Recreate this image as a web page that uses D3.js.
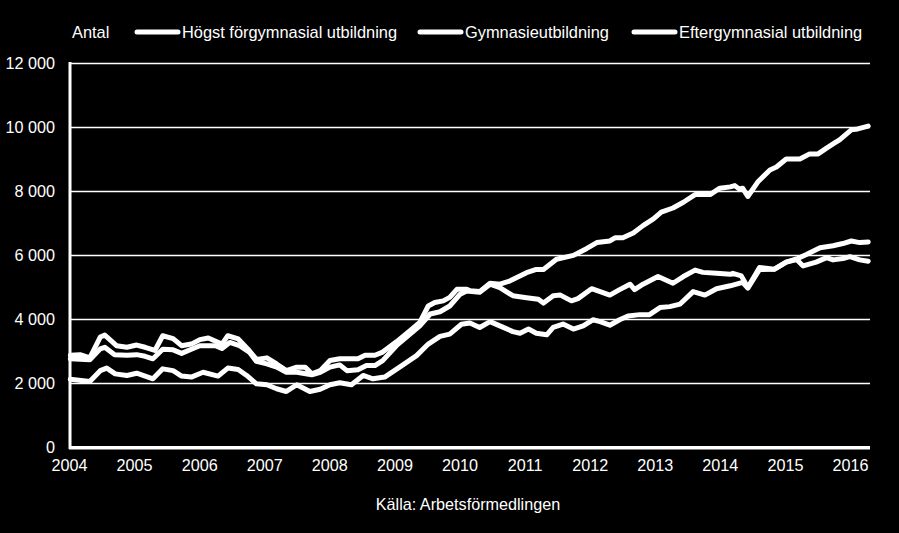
<!DOCTYPE html>
<html>
<head>
<meta charset="utf-8">
<script src="https://cdn.jsdelivr.net/npm/d3@7"></script>
<style>
  body { margin: 0; background: #000; }
  text { font-family: "Liberation Sans", Arial, sans-serif; fill: #fff; }
</style>
</head>
<body>
<script>
// series names as in the legend
var seriesNames = ["Högst förgymnasial utbildning", "Gymnasieutbildning", "Eftergymnasial utbildning"];

// [year (decimal), antal]
var forgymnasial = [
  [2004.02, 2880], [2004.17, 2900], [2004.32, 2800], [2004.48, 3450], [2004.55, 3510], [2004.73, 3180],
  [2004.89, 3130], [2005.04, 3200], [2005.17, 3130], [2005.32, 3030], [2005.44, 3490], [2005.60, 3400],
  [2005.73, 3180], [2005.88, 3230], [2006.01, 3370], [2006.14, 3420], [2006.35, 3230], [2006.44, 3490],
  [2006.60, 3390], [2006.75, 3070], [2006.88, 2750], [2007.04, 2800], [2007.19, 2610], [2007.34, 2400],
  [2007.50, 2510], [2007.63, 2510], [2007.73, 2300], [2007.86, 2400], [2008.01, 2715], [2008.16, 2770],
  [2008.44, 2770], [2008.55, 2880], [2008.70, 2880], [2008.82, 2980], [2009.03, 3300], [2009.24, 3650],
  [2009.39, 3910], [2009.52, 4420], [2009.62, 4530], [2009.75, 4580], [2009.85, 4690], [2009.96, 4940],
  [2010.11, 4940], [2010.16, 4900], [2010.31, 4870], [2010.47, 5130], [2010.62, 5100], [2010.77, 5200],
  [2011.03, 5460], [2011.18, 5560], [2011.29, 5560], [2011.49, 5880], [2011.75, 6000], [2011.95, 6210],
  [2012.11, 6400], [2012.31, 6450], [2012.39, 6550], [2012.51, 6550], [2012.67, 6700], [2012.82, 6930],
  [2012.98, 7140], [2013.10, 7350], [2013.28, 7480], [2013.44, 7660], [2013.62, 7900], [2013.85, 7900],
  [2014.00, 8100], [2014.16, 8140], [2014.23, 8180], [2014.30, 8070], [2014.35, 8100], [2014.43, 7840],
  [2014.59, 8310], [2014.77, 8670], [2014.87, 8760], [2015.02, 9010], [2015.23, 9010], [2015.38, 9170],
  [2015.51, 9170], [2015.64, 9350], [2015.77, 9520], [2015.84, 9610], [2016.02, 9920], [2016.12, 9950],
  [2016.28, 10040]
];

var gymnasie = [
  [2004.02, 2770], [2004.32, 2740], [2004.48, 3080], [2004.55, 3130], [2004.70, 2900], [2004.89, 2880],
  [2005.04, 2900], [2005.17, 2850], [2005.29, 2770], [2005.44, 3070], [2005.60, 3050], [2005.73, 2940],
  [2005.88, 3070], [2006.01, 3180], [2006.25, 3180], [2006.35, 3090], [2006.47, 3280], [2006.62, 3180],
  [2006.77, 2980], [2006.88, 2690], [2007.04, 2610], [2007.19, 2510], [2007.34, 2350], [2007.50, 2350],
  [2007.73, 2270], [2007.86, 2350], [2008.01, 2510], [2008.16, 2580], [2008.27, 2400], [2008.44, 2430],
  [2008.57, 2560], [2008.70, 2560], [2008.82, 2715], [2009.03, 3180], [2009.24, 3540], [2009.39, 3800],
  [2009.55, 4170], [2009.70, 4240], [2009.85, 4420], [2010.01, 4790], [2010.11, 4890], [2010.31, 4850],
  [2010.47, 5100], [2010.62, 4990], [2010.82, 4740], [2011.03, 4680], [2011.21, 4630], [2011.29, 4510],
  [2011.44, 4740], [2011.55, 4760], [2011.72, 4580], [2011.82, 4650], [2012.03, 4960], [2012.16, 4870],
  [2012.31, 4760], [2012.46, 4930], [2012.62, 5100], [2012.69, 4930], [2012.82, 5100], [2013.05, 5340],
  [2013.28, 5130], [2013.44, 5340], [2013.62, 5540], [2013.74, 5470], [2013.95, 5440], [2014.16, 5410],
  [2014.20, 5440], [2014.33, 5360], [2014.43, 5000], [2014.61, 5620], [2014.84, 5570], [2015.02, 5790],
  [2015.18, 5890], [2015.33, 6030], [2015.54, 6240], [2015.74, 6300], [2015.89, 6370], [2016.02, 6450],
  [2016.15, 6400], [2016.28, 6420]
];

var eftergymnasial = [
  [2004.02, 2130], [2004.32, 2060], [2004.48, 2400], [2004.58, 2480], [2004.71, 2300], [2004.89, 2250],
  [2005.04, 2320], [2005.29, 2145], [2005.44, 2456], [2005.60, 2400], [2005.73, 2230], [2005.88, 2200],
  [2006.06, 2350], [2006.29, 2230], [2006.44, 2480], [2006.60, 2435], [2006.73, 2250], [2006.88, 1990],
  [2007.04, 1960], [2007.19, 1835], [2007.34, 1750], [2007.50, 1960], [2007.70, 1750], [2007.86, 1820],
  [2008.01, 1960], [2008.16, 2020], [2008.34, 1960], [2008.52, 2250], [2008.67, 2145], [2008.85, 2200],
  [2009.08, 2510], [2009.34, 2870], [2009.52, 3230], [2009.70, 3470], [2009.85, 3540], [2010.03, 3850],
  [2010.16, 3890], [2010.31, 3750], [2010.47, 3930], [2010.62, 3800], [2010.82, 3620], [2010.93, 3570],
  [2011.06, 3700], [2011.18, 3570], [2011.34, 3520], [2011.44, 3750], [2011.59, 3855], [2011.75, 3700],
  [2011.90, 3800], [2012.05, 3990], [2012.16, 3930], [2012.31, 3820], [2012.46, 3990], [2012.59, 4110],
  [2012.77, 4150], [2012.92, 4150], [2013.08, 4370], [2013.23, 4400], [2013.39, 4480], [2013.59, 4870],
  [2013.77, 4760], [2013.95, 4960], [2014.16, 5050], [2014.35, 5160], [2014.43, 4980], [2014.61, 5560],
  [2014.84, 5570], [2015.02, 5790], [2015.18, 5870], [2015.28, 5670], [2015.48, 5790], [2015.64, 5930],
  [2015.74, 5860], [2015.89, 5900], [2016.00, 5960], [2016.15, 5860], [2016.28, 5820]
];

var yTicks = [0, 2000, 4000, 6000, 8000, 10000, 12000];
var xTicks = [2004, 2005, 2006, 2007, 2008, 2009, 2010, 2011, 2012, 2013, 2014, 2015, 2016];

var width = 899, height = 533;

var svg = d3.select("body").append("svg")
    .attr("width", width)
    .attr("height", height);

svg.append("rect").attr("width", width).attr("height", height).attr("fill", "#000");

var x = d3.scaleLinear().domain([2004, 2016]).range([69, 850]);
var y = d3.scaleLinear().domain([0, 12000]).range([447.5, 63.3]);

var sv = d3.formatLocale({decimal: ",", thousands: " ", grouping: [3], currency: ["", ""]});
var fmt = sv.format(",");

//gridlines
svg.selectAll(".grid")
    .data(yTicks.filter(function(d){ return d > 0; }))
    .enter()
    .append("line")
    .attr("class", "grid")
    .attr("x1", 70).attr("x2", 870)
    .attr("y1", function(d){ return Math.round(y(d)) + 0.5; })
    .attr("y2", function(d){ return Math.round(y(d)) + 0.5; })
    .attr("stroke", "#fff")
    .attr("stroke-width", 1.3);

//y axis labels
var yAxis = svg.append("g")
    .attr("transform", "translate(70,0)")
    .call(d3.axisLeft(y).tickValues(yTicks).tickSize(0).tickPadding(15).tickFormat(fmt));
yAxis.select(".domain").remove();
yAxis.selectAll("text").attr("font-size", 16.2).attr("font-family", "Liberation Sans, Arial, sans-serif").attr("fill", "#fff");

//x axis labels
var xAxis = svg.append("g")
    .attr("transform", "translate(0,449)")
    .call(d3.axisBottom(x).tickValues(xTicks).tickSize(0).tickPadding(10).tickFormat(d3.format("d")));
xAxis.select(".domain").remove();
xAxis.selectAll("text").attr("font-size", 16.2).attr("font-family", "Liberation Sans, Arial, sans-serif").attr("fill", "#fff");

//axis lines
svg.append("line")
    .attr("x1", 70).attr("x2", 70).attr("y1", 62).attr("y2", 449)
    .attr("stroke", "#fff").attr("stroke-width", 3);
svg.append("line")
    .attr("x1", 69).attr("x2", 870).attr("y1", 447.8).attr("y2", 447.8)
    .attr("stroke", "#fff").attr("stroke-width", 3.5);

//data lines
var line = d3.line()
    .x(function(d){ return x(d[0]); })
    .y(function(d){ return y(d[1]); });

svg.selectAll(".series")
    .data([eftergymnasial, gymnasie, forgymnasial])
    .enter()
    .append("path")
    .attr("class", "series")
    .attr("d", line)
    .attr("fill", "none")
    .attr("stroke", "#fff")
    .attr("stroke-width", 5)
    .attr("stroke-linejoin", "round")
    .attr("stroke-linecap", "round");

//legend
svg.append("text")
    .attr("x", 72).attr("y", 32).attr("dy", "0.35em")
    .attr("font-size", 16.4)
    .text("Antal");

var legendX = [135, 418, 632];
var legend = svg.selectAll(".legendItem")
    .data(seriesNames)
    .enter()
    .append("g")
    .attr("class", "legendItem")
    .attr("transform", function(d, i){ return "translate(" + legendX[i] + ",32)"; });
legend.append("line")
    .attr("x1", 2).attr("x2", 43)
    .attr("stroke", "#fff").attr("stroke-width", 5)
    .attr("stroke-linecap", "round");
legend.append("text")
    .attr("x", 47).attr("dy", "0.35em")
    .attr("font-size", 16.4)
    .text(function(d){ return d; });

//source
svg.append("text")
    .attr("x", 468).attr("y", 510)
    .attr("text-anchor", "middle")
    .attr("font-size", 16.2)
    .text("Källa: Arbetsförmedlingen");
</script>
</body>
</html>
